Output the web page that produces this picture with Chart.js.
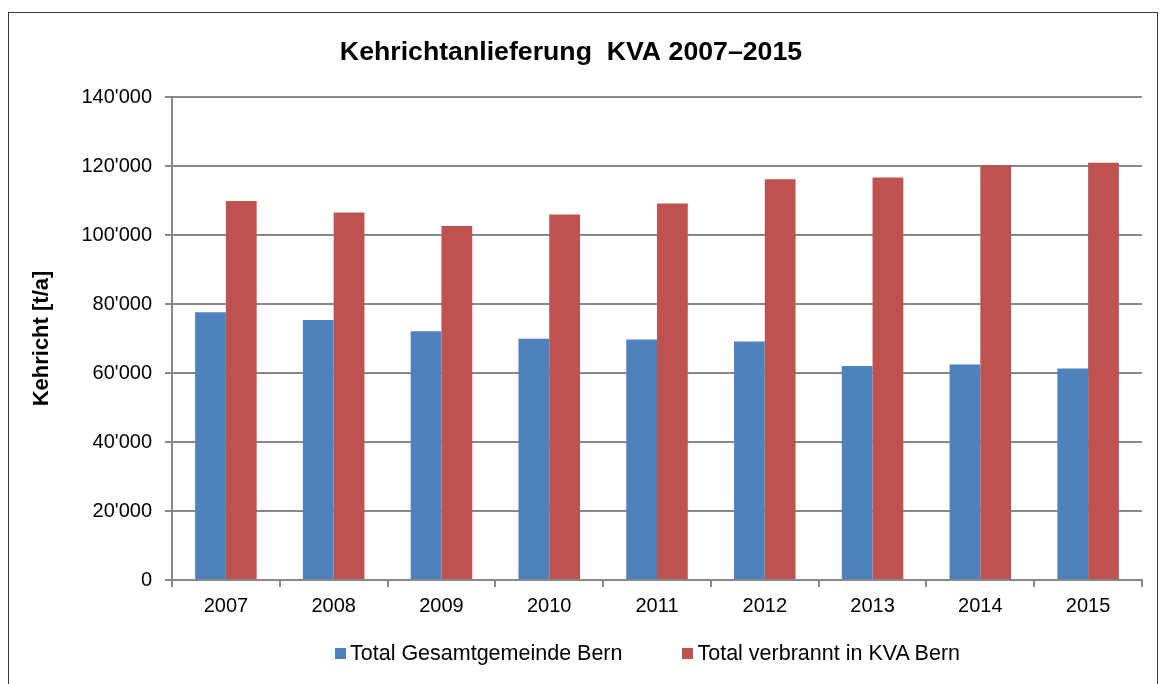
<!DOCTYPE html>
<html>
<head>
<meta charset="utf-8">
<script src="https://cdn.jsdelivr.net/npm/chart.js@4/dist/chart.umd.min.js"></script>
<style>
  html, body { margin: 0; padding: 0; background: #fff; }
  #wrap { position: relative; width: 1168px; height: 684px; overflow: hidden; }
  #frame { position: absolute; left: 8px; top: 12px; width: 1148px; height: 700px; border: 1px solid #3a3a3a; }
  canvas { position: absolute; left: 0; top: 0; }
  #legend { position: absolute; left: 335px; top: 641px; display: flex; gap: 60px;
            font-family: "Liberation Sans", Arial, sans-serif; font-size: 21.5px; color: #000; line-height: 24px; }
  #legend .item { display: flex; align-items: center; white-space: pre; }
  #legend .box { width: 11px; height: 11px; margin-right: 4px; }
</style>
</head>
<body>
<div id="wrap">
  <div id="frame"></div>
  <canvas id="chart" width="1168" height="684"></canvas>
  <div id="legend"></div>
</div>
<script>
const years = ['2007', '2008', '2009', '2010', '2011', '2012', '2013', '2014', '2015'];
const gesamtgemeinde = [77600, 75400, 72100, 69900, 69700, 69150, 62050, 62450, 61300];
const verbrannt = [109900, 106500, 102650, 105950, 109150, 116150, 116700, 120200, 120950];
const yTicks = [0, 20000, 40000, 60000, 80000, 100000, 120000, 140000];

const fontFamily = '"Liberation Sans", Arial, sans-serif';
const gridColor = '#888888';

const fmt = v => String(v).replace(/\B(?=(\d{3})+(?!\d))/g, "'");

const chart = new Chart(document.getElementById('chart').getContext('2d'), {
  type: 'bar',
  data: {
    labels: years,
    datasets: [
      {
        label: 'Total Gesamtgemeinde Bern',
        data: gesamtgemeinde,
        backgroundColor: '#4F81BD',
        categoryPercentage: 0.571,
        barPercentage: 1.0
      },
      {
        label: 'Total verbrannt in KVA Bern',
        data: verbrannt,
        backgroundColor: '#BE524F',
        categoryPercentage: 0.571,
        barPercentage: 1.0
      }
    ]
  },
  options: {
    responsive: false,
    animation: false,
    layout: { padding: { left: 0, right: 26, top: 0, bottom: 50 } },
    plugins: {
      title: {
        display: true,
        text: 'Kehrichtanlieferung  KVA 2007\u20132015',
        color: '#000',
        font: { family: fontFamily, size: 26.7, weight: 'bold' },
        padding: { top: 37, bottom: 28 }
      },
      legend: { display: false },
      tooltip: { enabled: false }
    },
    scales: {
      x: {
        afterFit: s => { s.height = 54; },
        grid: { display: true, drawOnChartArea: false, drawTicks: true, tickLength: 7, color: gridColor, lineWidth: 2 },
        border: { color: gridColor, width: 2 },
        ticks: { color: '#000', font: { family: fontFamily, size: 20 }, padding: 7, maxRotation: 0 }
      },
      y: {
        min: 0,
        max: 140000,
        afterFit: s => { s.width = 172; },
        afterBuildTicks: s => { s.ticks = yTicks.map(v => ({ value: v })); },
        grid: { color: gridColor, lineWidth: 2, tickLength: 7 },
        border: { color: gridColor, width: 2 },
        ticks: { color: '#000', font: { family: fontFamily, size: 20 }, padding: 13, callback: v => fmt(v) },
        title: {
          display: true,
          text: 'Kehricht [t/a]',
          color: '#000',
          font: { family: fontFamily, size: 22, weight: 'bold' },
          padding: { top: 29, bottom: 0 }
        }
      }
    }
  }
});

// html legend built from the datasets
const legendEl = document.getElementById('legend');
chart.data.datasets.forEach(ds => {
  const item = document.createElement('div');
  item.className = 'item';
  const box = document.createElement('span');
  box.className = 'box';
  box.style.background = ds.backgroundColor;
  const txt = document.createElement('span');
  txt.textContent = ds.label;
  item.appendChild(box);
  item.appendChild(txt);
  legendEl.appendChild(item);
});
</script>
</body>
</html>
